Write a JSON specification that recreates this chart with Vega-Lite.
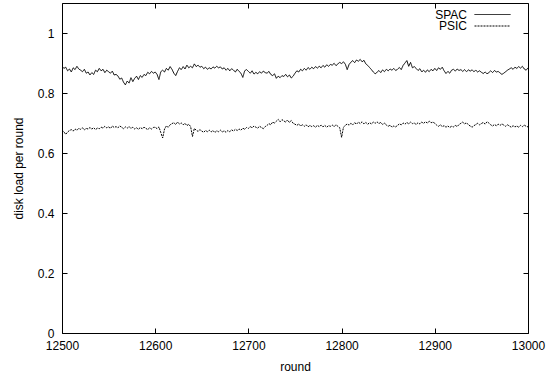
{
"$schema": "https://vega.github.io/schema/vega-lite/v6.json",
"width": 466, "height": 330,
"autosize": "none",
"padding": {"left": 62, "top": 3, "right": 19, "bottom": 43},
"background": "white",
"config": {
  "view": {"stroke": "black", "strokeWidth": 1},
  "font": "Liberation Sans",
  "axis": {"domain": false, "grid": false, "ticks": true, "tickColor": "black", "tickOpacity": 1, "tickSize": 5, "tickWidth": 1, "offset": -5, "labelColor": "black", "labelFontSize": 12, "titleColor": "black", "titleFontSize": 12, "titleFontWeight": "normal", "labelFont": "Liberation Sans", "titleFont": "Liberation Sans"},
  "legend": {"labelFont": "Liberation Sans", "labelFontSize": 12, "labelColor": "black"}
},
"data": {"values": [
{"r":12500,"SPAC":0.890,"PSIC":0.676},{"r":12502,"SPAC":0.882,"PSIC":0.671},{"r":12504,"SPAC":0.886,"PSIC":0.662},{"r":12506,"SPAC":0.874,"PSIC":0.670},{"r":12508,"SPAC":0.880,"PSIC":0.675},
{"r":12510,"SPAC":0.870,"PSIC":0.678},{"r":12512,"SPAC":0.884,"PSIC":0.673},{"r":12514,"SPAC":0.878,"PSIC":0.680},{"r":12516,"SPAC":0.889,"PSIC":0.676},{"r":12518,"SPAC":0.880,"PSIC":0.682},
{"r":12520,"SPAC":0.876,"PSIC":0.679},{"r":12522,"SPAC":0.871,"PSIC":0.684},{"r":12524,"SPAC":0.879,"PSIC":0.677},{"r":12526,"SPAC":0.866,"PSIC":0.682},{"r":12528,"SPAC":0.870,"PSIC":0.680},
{"r":12530,"SPAC":0.860,"PSIC":0.685},{"r":12532,"SPAC":0.868,"PSIC":0.680},{"r":12534,"SPAC":0.862,"PSIC":0.684},{"r":12536,"SPAC":0.876,"PSIC":0.678},{"r":12538,"SPAC":0.871,"PSIC":0.683},
{"r":12540,"SPAC":0.882,"PSIC":0.681},{"r":12542,"SPAC":0.874,"PSIC":0.686},{"r":12544,"SPAC":0.879,"PSIC":0.683},{"r":12546,"SPAC":0.868,"PSIC":0.689},{"r":12548,"SPAC":0.876,"PSIC":0.684},
{"r":12550,"SPAC":0.871,"PSIC":0.687},{"r":12552,"SPAC":0.866,"PSIC":0.682},{"r":12554,"SPAC":0.873,"PSIC":0.690},{"r":12556,"SPAC":0.860,"PSIC":0.685},{"r":12558,"SPAC":0.862,"PSIC":0.688},
{"r":12560,"SPAC":0.857,"PSIC":0.684},{"r":12562,"SPAC":0.846,"PSIC":0.690},{"r":12564,"SPAC":0.850,"PSIC":0.686},{"r":12566,"SPAC":0.836,"PSIC":0.681},{"r":12568,"SPAC":0.827,"PSIC":0.687},
{"r":12570,"SPAC":0.840,"PSIC":0.683},{"r":12572,"SPAC":0.833,"PSIC":0.688},{"r":12574,"SPAC":0.851,"PSIC":0.682},{"r":12576,"SPAC":0.838,"PSIC":0.686},{"r":12578,"SPAC":0.849,"PSIC":0.680},
{"r":12580,"SPAC":0.856,"PSIC":0.684},{"r":12582,"SPAC":0.845,"PSIC":0.679},{"r":12584,"SPAC":0.858,"PSIC":0.685},{"r":12586,"SPAC":0.852,"PSIC":0.681},{"r":12588,"SPAC":0.862,"PSIC":0.686},
{"r":12590,"SPAC":0.858,"PSIC":0.682},{"r":12592,"SPAC":0.869,"PSIC":0.678},{"r":12594,"SPAC":0.864,"PSIC":0.684},{"r":12596,"SPAC":0.872,"PSIC":0.680},{"r":12598,"SPAC":0.866,"PSIC":0.685},
{"r":12600,"SPAC":0.870,"PSIC":0.686},{"r":12602,"SPAC":0.862,"PSIC":0.681},{"r":12604,"SPAC":0.845,"PSIC":0.687},{"r":12606,"SPAC":0.871,"PSIC":0.668},{"r":12608,"SPAC":0.876,"PSIC":0.650},
{"r":12610,"SPAC":0.870,"PSIC":0.680},{"r":12612,"SPAC":0.882,"PSIC":0.690},{"r":12614,"SPAC":0.876,"PSIC":0.686},{"r":12616,"SPAC":0.888,"PSIC":0.694},{"r":12618,"SPAC":0.879,"PSIC":0.698},
{"r":12620,"SPAC":0.866,"PSIC":0.701},{"r":12622,"SPAC":0.858,"PSIC":0.695},{"r":12624,"SPAC":0.872,"PSIC":0.703},{"r":12626,"SPAC":0.884,"PSIC":0.697},{"r":12628,"SPAC":0.878,"PSIC":0.700},
{"r":12630,"SPAC":0.888,"PSIC":0.694},{"r":12632,"SPAC":0.880,"PSIC":0.699},{"r":12634,"SPAC":0.893,"PSIC":0.691},{"r":12636,"SPAC":0.884,"PSIC":0.696},{"r":12638,"SPAC":0.889,"PSIC":0.688},
{"r":12640,"SPAC":0.884,"PSIC":0.655},{"r":12642,"SPAC":0.897,"PSIC":0.682},{"r":12644,"SPAC":0.888,"PSIC":0.676},{"r":12646,"SPAC":0.893,"PSIC":0.672},{"r":12648,"SPAC":0.886,"PSIC":0.678},
{"r":12650,"SPAC":0.889,"PSIC":0.673},{"r":12652,"SPAC":0.881,"PSIC":0.669},{"r":12654,"SPAC":0.886,"PSIC":0.675},{"r":12656,"SPAC":0.879,"PSIC":0.671},{"r":12658,"SPAC":0.884,"PSIC":0.676},
{"r":12660,"SPAC":0.880,"PSIC":0.670},{"r":12662,"SPAC":0.887,"PSIC":0.675},{"r":12664,"SPAC":0.883,"PSIC":0.668},{"r":12666,"SPAC":0.889,"PSIC":0.674},{"r":12668,"SPAC":0.884,"PSIC":0.671},
{"r":12670,"SPAC":0.887,"PSIC":0.676},{"r":12672,"SPAC":0.880,"PSIC":0.670},{"r":12674,"SPAC":0.884,"PSIC":0.674},{"r":12676,"SPAC":0.876,"PSIC":0.669},{"r":12678,"SPAC":0.882,"PSIC":0.675},
{"r":12680,"SPAC":0.874,"PSIC":0.671},{"r":12682,"SPAC":0.881,"PSIC":0.677},{"r":12684,"SPAC":0.876,"PSIC":0.673},{"r":12686,"SPAC":0.870,"PSIC":0.679},{"r":12688,"SPAC":0.879,"PSIC":0.675},
{"r":12690,"SPAC":0.872,"PSIC":0.680},{"r":12692,"SPAC":0.866,"PSIC":0.676},{"r":12694,"SPAC":0.852,"PSIC":0.683},{"r":12696,"SPAC":0.874,"PSIC":0.679},{"r":12698,"SPAC":0.878,"PSIC":0.685},
{"r":12700,"SPAC":0.872,"PSIC":0.682},{"r":12702,"SPAC":0.866,"PSIC":0.688},{"r":12704,"SPAC":0.874,"PSIC":0.684},{"r":12706,"SPAC":0.863,"PSIC":0.690},{"r":12708,"SPAC":0.869,"PSIC":0.686},
{"r":12710,"SPAC":0.864,"PSIC":0.683},{"r":12712,"SPAC":0.871,"PSIC":0.689},{"r":12714,"SPAC":0.866,"PSIC":0.685},{"r":12716,"SPAC":0.873,"PSIC":0.681},{"r":12718,"SPAC":0.868,"PSIC":0.688},
{"r":12720,"SPAC":0.866,"PSIC":0.692},{"r":12722,"SPAC":0.872,"PSIC":0.698},{"r":12724,"SPAC":0.862,"PSIC":0.694},{"r":12726,"SPAC":0.858,"PSIC":0.703},{"r":12728,"SPAC":0.864,"PSIC":0.700},
{"r":12730,"SPAC":0.849,"PSIC":0.706},{"r":12732,"SPAC":0.856,"PSIC":0.712},{"r":12734,"SPAC":0.851,"PSIC":0.704},{"r":12736,"SPAC":0.858,"PSIC":0.711},{"r":12738,"SPAC":0.855,"PSIC":0.707},
{"r":12740,"SPAC":0.862,"PSIC":0.703},{"r":12742,"SPAC":0.854,"PSIC":0.710},{"r":12744,"SPAC":0.860,"PSIC":0.702},{"r":12746,"SPAC":0.850,"PSIC":0.708},{"r":12748,"SPAC":0.856,"PSIC":0.699},
{"r":12750,"SPAC":0.866,"PSIC":0.696},{"r":12752,"SPAC":0.874,"PSIC":0.692},{"r":12754,"SPAC":0.870,"PSIC":0.697},{"r":12756,"SPAC":0.879,"PSIC":0.690},{"r":12758,"SPAC":0.874,"PSIC":0.694},
{"r":12760,"SPAC":0.882,"PSIC":0.689},{"r":12762,"SPAC":0.876,"PSIC":0.694},{"r":12764,"SPAC":0.885,"PSIC":0.687},{"r":12766,"SPAC":0.879,"PSIC":0.692},{"r":12768,"SPAC":0.886,"PSIC":0.688},
{"r":12770,"SPAC":0.881,"PSIC":0.691},{"r":12772,"SPAC":0.888,"PSIC":0.686},{"r":12774,"SPAC":0.883,"PSIC":0.692},{"r":12776,"SPAC":0.889,"PSIC":0.688},{"r":12778,"SPAC":0.884,"PSIC":0.693},
{"r":12780,"SPAC":0.892,"PSIC":0.687},{"r":12782,"SPAC":0.886,"PSIC":0.692},{"r":12784,"SPAC":0.894,"PSIC":0.686},{"r":12786,"SPAC":0.889,"PSIC":0.691},{"r":12788,"SPAC":0.895,"PSIC":0.689},
{"r":12790,"SPAC":0.893,"PSIC":0.693},{"r":12792,"SPAC":0.899,"PSIC":0.688},{"r":12794,"SPAC":0.891,"PSIC":0.694},{"r":12796,"SPAC":0.897,"PSIC":0.689},{"r":12798,"SPAC":0.902,"PSIC":0.684},
{"r":12800,"SPAC":0.898,"PSIC":0.652},{"r":12802,"SPAC":0.904,"PSIC":0.686},{"r":12804,"SPAC":0.896,"PSIC":0.692},{"r":12806,"SPAC":0.878,"PSIC":0.697},{"r":12808,"SPAC":0.895,"PSIC":0.693},
{"r":12810,"SPAC":0.903,"PSIC":0.699},{"r":12812,"SPAC":0.908,"PSIC":0.694},{"r":12814,"SPAC":0.901,"PSIC":0.701},{"r":12816,"SPAC":0.910,"PSIC":0.696},{"r":12818,"SPAC":0.906,"PSIC":0.703},
{"r":12820,"SPAC":0.912,"PSIC":0.698},{"r":12822,"SPAC":0.904,"PSIC":0.704},{"r":12824,"SPAC":0.909,"PSIC":0.697},{"r":12826,"SPAC":0.897,"PSIC":0.702},{"r":12828,"SPAC":0.892,"PSIC":0.696},
{"r":12830,"SPAC":0.885,"PSIC":0.701},{"r":12832,"SPAC":0.878,"PSIC":0.697},{"r":12834,"SPAC":0.870,"PSIC":0.703},{"r":12836,"SPAC":0.864,"PSIC":0.699},{"r":12838,"SPAC":0.869,"PSIC":0.704},
{"r":12840,"SPAC":0.875,"PSIC":0.698},{"r":12842,"SPAC":0.868,"PSIC":0.702},{"r":12844,"SPAC":0.877,"PSIC":0.695},{"r":12846,"SPAC":0.871,"PSIC":0.700},{"r":12848,"SPAC":0.879,"PSIC":0.693},
{"r":12850,"SPAC":0.874,"PSIC":0.689},{"r":12852,"SPAC":0.880,"PSIC":0.693},{"r":12854,"SPAC":0.876,"PSIC":0.686},{"r":12856,"SPAC":0.882,"PSIC":0.690},{"r":12858,"SPAC":0.875,"PSIC":0.687},
{"r":12860,"SPAC":0.879,"PSIC":0.692},{"r":12862,"SPAC":0.885,"PSIC":0.697},{"r":12864,"SPAC":0.878,"PSIC":0.694},{"r":12866,"SPAC":0.892,"PSIC":0.700},{"r":12868,"SPAC":0.900,"PSIC":0.696},
{"r":12870,"SPAC":0.908,"PSIC":0.702},{"r":12872,"SPAC":0.889,"PSIC":0.697},{"r":12874,"SPAC":0.902,"PSIC":0.703},{"r":12876,"SPAC":0.884,"PSIC":0.698},{"r":12878,"SPAC":0.888,"PSIC":0.700},
{"r":12880,"SPAC":0.882,"PSIC":0.695},{"r":12882,"SPAC":0.875,"PSIC":0.701},{"r":12884,"SPAC":0.881,"PSIC":0.697},{"r":12886,"SPAC":0.870,"PSIC":0.703},{"r":12888,"SPAC":0.876,"PSIC":0.699},
{"r":12890,"SPAC":0.869,"PSIC":0.704},{"r":12892,"SPAC":0.877,"PSIC":0.700},{"r":12894,"SPAC":0.871,"PSIC":0.706},{"r":12896,"SPAC":0.879,"PSIC":0.701},{"r":12898,"SPAC":0.874,"PSIC":0.703},
{"r":12900,"SPAC":0.882,"PSIC":0.699},{"r":12902,"SPAC":0.875,"PSIC":0.693},{"r":12904,"SPAC":0.884,"PSIC":0.689},{"r":12906,"SPAC":0.879,"PSIC":0.694},{"r":12908,"SPAC":0.886,"PSIC":0.688},
{"r":12910,"SPAC":0.874,"PSIC":0.691},{"r":12912,"SPAC":0.865,"PSIC":0.686},{"r":12914,"SPAC":0.872,"PSIC":0.690},{"r":12916,"SPAC":0.866,"PSIC":0.685},{"r":12918,"SPAC":0.876,"PSIC":0.689},
{"r":12920,"SPAC":0.879,"PSIC":0.687},{"r":12922,"SPAC":0.873,"PSIC":0.692},{"r":12924,"SPAC":0.880,"PSIC":0.688},{"r":12926,"SPAC":0.875,"PSIC":0.695},{"r":12928,"SPAC":0.878,"PSIC":0.699},
{"r":12930,"SPAC":0.872,"PSIC":0.703},{"r":12932,"SPAC":0.878,"PSIC":0.697},{"r":12934,"SPAC":0.871,"PSIC":0.701},{"r":12936,"SPAC":0.877,"PSIC":0.694},{"r":12938,"SPAC":0.873,"PSIC":0.690},
{"r":12940,"SPAC":0.877,"PSIC":0.686},{"r":12942,"SPAC":0.871,"PSIC":0.691},{"r":12944,"SPAC":0.876,"PSIC":0.695},{"r":12946,"SPAC":0.870,"PSIC":0.699},{"r":12948,"SPAC":0.874,"PSIC":0.694},
{"r":12950,"SPAC":0.869,"PSIC":0.698},{"r":12952,"SPAC":0.865,"PSIC":0.702},{"r":12954,"SPAC":0.870,"PSIC":0.696},{"r":12956,"SPAC":0.864,"PSIC":0.704},{"r":12958,"SPAC":0.868,"PSIC":0.700},
{"r":12960,"SPAC":0.874,"PSIC":0.694},{"r":12962,"SPAC":0.868,"PSIC":0.690},{"r":12964,"SPAC":0.875,"PSIC":0.695},{"r":12966,"SPAC":0.870,"PSIC":0.691},{"r":12968,"SPAC":0.872,"PSIC":0.696},
{"r":12970,"SPAC":0.867,"PSIC":0.692},{"r":12972,"SPAC":0.862,"PSIC":0.697},{"r":12974,"SPAC":0.866,"PSIC":0.693},{"r":12976,"SPAC":0.871,"PSIC":0.689},{"r":12978,"SPAC":0.876,"PSIC":0.694},
{"r":12980,"SPAC":0.880,"PSIC":0.690},{"r":12982,"SPAC":0.884,"PSIC":0.686},{"r":12984,"SPAC":0.879,"PSIC":0.691},{"r":12986,"SPAC":0.886,"PSIC":0.687},{"r":12988,"SPAC":0.882,"PSIC":0.690},
{"r":12990,"SPAC":0.888,"PSIC":0.686},{"r":12992,"SPAC":0.883,"PSIC":0.692},{"r":12994,"SPAC":0.889,"PSIC":0.688},{"r":12996,"SPAC":0.880,"PSIC":0.693},{"r":12998,"SPAC":0.876,"PSIC":0.689},
{"r":13000,"SPAC":0.884,"PSIC":0.687}
]},
"transform": [{"fold": ["SPAC", "PSIC"], "as": ["series", "v"]}],
"layer": [
  {
    "transform": [{"filter": "datum.series === 'SPAC'"}],
    "mark": {"type": "line", "color": "black", "strokeWidth": 1, "clip": true},
    "encoding": {
      "x": {"field": "r", "type": "quantitative", "scale": {"domain": [12500, 13000], "nice": false, "zero": false},
            "axis": {"orient": "bottom", "title": "round", "values": [12500, 12600, 12700, 12800, 12900, 13000], "format": "d", "labelPadding": 7, "titlePadding": 10, "labelFlush": false}},
      "y": {"field": "v", "type": "quantitative", "scale": {"domain": [0, 1.1], "nice": false, "zero": false},
            "axis": {"orient": "left", "title": "disk load per round", "values": [0, 0.2, 0.4, 0.6, 0.8, 1], "format": "~g", "labelPadding": 8, "titlePadding": 12}},
      "strokeDash": {"field": "series", "type": "nominal",
            "scale": {"domain": ["SPAC"], "range": [[1, 0]]},
            "legend": {"title": null, "orient": "none", "legendX": 363, "legendY": -7, "symbolSize": 1296, "symbolStrokeWidth": 1, "symbolStrokeColor": "black", "labelAlign": "right", "labelOffset": -44, "symbolOffset": 49, "padding": 0}}
    }
  },
  {
    "transform": [{"filter": "datum.series === 'PSIC'"}],
    "mark": {"type": "line", "color": "black", "strokeWidth": 1, "clip": true},
    "encoding": {
      "x": {"field": "r", "type": "quantitative", "axis": null},
      "y": {"field": "v", "type": "quantitative", "axis": null},
      "strokeDash": {"field": "series", "type": "nominal",
            "scale": {"domain": ["PSIC"], "range": [[2, 1]]},
            "legend": {"title": null, "orient": "none", "legendX": 363, "legendY": 4.5, "symbolSize": 1296, "symbolStrokeWidth": 1, "symbolStrokeColor": "black", "labelAlign": "right", "labelOffset": -44, "symbolOffset": 49, "padding": 0}}
    }
  },
  {
    "mark": {"type": "line", "opacity": 0},
    "encoding": {
      "x": {"field": "r", "type": "quantitative",
            "axis": {"orient": "top", "title": null, "labels": false, "values": [12500, 12600, 12700, 12800, 12900, 13000]}},
      "y": {"field": "v", "type": "quantitative",
            "axis": {"orient": "right", "title": null, "labels": false, "values": [0, 0.2, 0.4, 0.6, 0.8, 1]}},
      "detail": {"field": "series"}
    }
  }
],
"resolve": {"axis": {"x": "independent", "y": "independent"}, "scale": {"strokeDash": "independent"}, "legend": {"strokeDash": "independent"}}
}
